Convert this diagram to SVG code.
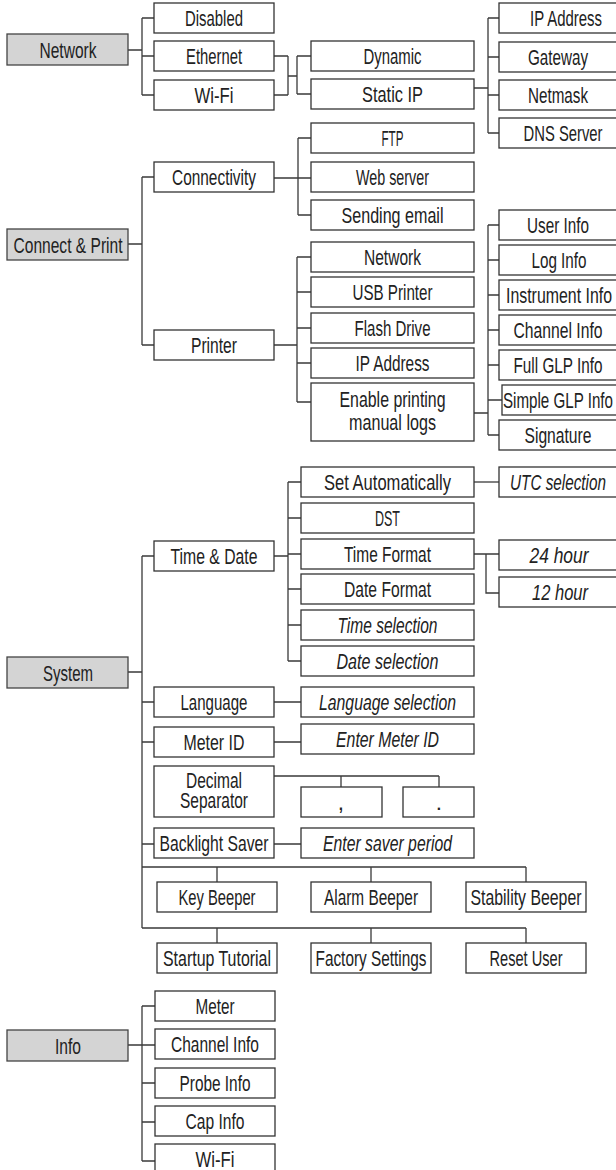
<svg xmlns="http://www.w3.org/2000/svg" width="616" height="1170" viewBox="0 0 616 1170">
<style>
.b{fill:#fff;stroke:#333;stroke-width:1.3}
.r{fill:#d4d4d4;stroke:#444;stroke-width:1.3}
.c{fill:none;stroke:#3a3a3a;stroke-width:1.3}
text{font-family:"Liberation Sans Narrow","Liberation Sans",Arial,sans-serif;font-size:22.5px;fill:#222;text-anchor:middle}
.i{font-style:italic}
</style>
<rect width="616" height="1170" fill="#fff"/>
<g id="connectors" class="c">
<path d="M128 50H142M142 18V95M142 18H154M142 56H154M142 95H154"/>
<path d="M274 56H288M274 95H288M288 56V95M288 76H297M297 56V94M297 56H311M297 94H311"/>
<path d="M474 88H488M488 18V133M488 18H499M488 57H499M488 95H499M488 133H499"/>
<path d="M128 244H142M142 177V345M142 177H154M142 345H154"/>
<path d="M274 178H311M298 138V215M298 138H311M298 215H311"/>
<path d="M274 345H297M297 257V402M297 257H311M297 292H311M297 328H311M297 363H311M297 402H311"/>
<path d="M474 413H488M488 225V435M488 225H499M488 260H499M488 295H499M488 330H499M488 365H499M488 400H502M488 435H499"/>
<path d="M128 672H142M142 556V928M142 556H154M142 702H154M142 742H154M142 844H154"/>
<path d="M142 867H526M217 867V882M371 867V882M526 867V882"/>
<path d="M142 928H526M217 928V943M371 928V943M526 928V943"/>
<path d="M274 556H288M288 482V661M288 482H301M288 518H301M288 554H301M288 589H301M288 625H301M288 661H301"/>
<path d="M474 482H499"/>
<path d="M474 554H499M486 554V593H499"/>
<path d="M274 702H301M274 742H301M274 844H301"/>
<path d="M274 776H439M341 776V787M439 776V787"/>
<path d="M128 1045H155M142 1006V1161M142 1006H155M142 1083H155M142 1122H155M142 1161H155"/>
</g>
<g id="n-network"><rect class="r" x="7" y="34" width="121" height="31"/><text x="68" y="58" textLength="57" lengthAdjust="spacingAndGlyphs">Network</text></g>
<g id="n-disabled"><rect class="b" x="154" y="3" width="120" height="30"/><text x="214" y="26" textLength="58" lengthAdjust="spacingAndGlyphs">Disabled</text></g>
<g id="n-ethernet"><rect class="b" x="154" y="41" width="120" height="30"/><text x="214" y="64" textLength="56" lengthAdjust="spacingAndGlyphs">Ethernet</text></g>
<g id="n-wifi"><rect class="b" x="154" y="80" width="120" height="30"/><text x="214" y="103" textLength="39" lengthAdjust="spacingAndGlyphs">Wi-Fi</text></g>
<g id="n-dynamic"><rect class="b" x="311" y="41" width="163" height="30"/><text x="392.5" y="64" textLength="58" lengthAdjust="spacingAndGlyphs">Dynamic</text></g>
<g id="n-staticip"><rect class="b" x="311" y="79" width="163" height="30"/><text x="392.5" y="102" textLength="61" lengthAdjust="spacingAndGlyphs">Static IP</text></g>
<g id="n-ipaddress"><rect class="b" x="499" y="3" width="119" height="30"/><text x="566" y="26" textLength="72" lengthAdjust="spacingAndGlyphs">IP Address</text></g>
<g id="n-gateway"><rect class="b" x="499" y="42" width="119" height="30"/><text x="558" y="65" textLength="60" lengthAdjust="spacingAndGlyphs">Gateway</text></g>
<g id="n-netmask"><rect class="b" x="499" y="80" width="119" height="30"/><text x="558" y="103" textLength="60" lengthAdjust="spacingAndGlyphs">Netmask</text></g>
<g id="n-dns"><rect class="b" x="499" y="118" width="119" height="30"/><text x="563" y="141" textLength="79" lengthAdjust="spacingAndGlyphs">DNS Server</text></g>
<g id="n-connectprint"><rect class="r" x="7" y="229" width="121" height="31"/><text x="68" y="252.5" textLength="109" lengthAdjust="spacingAndGlyphs">Connect &amp; Print</text></g>
<g id="n-connectivity"><rect class="b" x="154" y="162" width="120" height="30"/><text x="214" y="185" textLength="84" lengthAdjust="spacingAndGlyphs">Connectivity</text></g>
<g id="n-ftp"><rect class="b" x="311" y="123" width="163" height="30"/><text x="392.5" y="146" textLength="22" lengthAdjust="spacingAndGlyphs">FTP</text></g>
<g id="n-webserver"><rect class="b" x="311" y="162" width="163" height="30"/><text x="392.5" y="185" textLength="73" lengthAdjust="spacingAndGlyphs">Web server</text></g>
<g id="n-email"><rect class="b" x="311" y="200" width="163" height="30"/><text x="392.5" y="223" textLength="102" lengthAdjust="spacingAndGlyphs">Sending email</text></g>
<g id="n-printer"><rect class="b" x="154" y="330" width="120" height="30"/><text x="214" y="353" textLength="46" lengthAdjust="spacingAndGlyphs">Printer</text></g>
<g id="n-pnetwork"><rect class="b" x="311" y="242" width="163" height="30"/><text x="392.5" y="265" textLength="57" lengthAdjust="spacingAndGlyphs">Network</text></g>
<g id="n-usb"><rect class="b" x="311" y="277" width="163" height="30"/><text x="392.5" y="300" textLength="80" lengthAdjust="spacingAndGlyphs">USB Printer</text></g>
<g id="n-flash"><rect class="b" x="311" y="313" width="163" height="30"/><text x="392.5" y="336" textLength="76" lengthAdjust="spacingAndGlyphs">Flash Drive</text></g>
<g id="n-pip"><rect class="b" x="311" y="348" width="163" height="30"/><text x="392.5" y="371" textLength="74" lengthAdjust="spacingAndGlyphs">IP Address</text></g>
<g id="n-enable"><rect class="b" x="311" y="383" width="163" height="58"/><text x="392.5" y="407" textLength="106" lengthAdjust="spacingAndGlyphs">Enable printing</text><text x="392.5" y="430" textLength="87" lengthAdjust="spacingAndGlyphs">manual logs</text></g>
<g id="n-userinfo"><rect class="b" x="499" y="210" width="119" height="30"/><text x="558" y="233" textLength="62" lengthAdjust="spacingAndGlyphs">User Info</text></g>
<g id="n-loginfo"><rect class="b" x="499" y="245" width="119" height="30"/><text x="559" y="268" textLength="55" lengthAdjust="spacingAndGlyphs">Log Info</text></g>
<g id="n-instinfo"><rect class="b" x="499" y="280" width="119" height="30"/><text x="559" y="303" textLength="106" lengthAdjust="spacingAndGlyphs">Instrument Info</text></g>
<g id="n-chaninfo"><rect class="b" x="499" y="315" width="119" height="30"/><text x="558" y="338" textLength="89" lengthAdjust="spacingAndGlyphs">Channel Info</text></g>
<g id="n-fullglp"><rect class="b" x="499" y="350" width="119" height="30"/><text x="558" y="373" textLength="89" lengthAdjust="spacingAndGlyphs">Full GLP Info</text></g>
<g id="n-simpleglp"><rect class="b" x="502" y="385" width="116" height="30"/><text x="558" y="408" textLength="110" lengthAdjust="spacingAndGlyphs">Simple GLP Info</text></g>
<g id="n-signature"><rect class="b" x="499" y="420" width="119" height="30"/><text x="558" y="443" textLength="67" lengthAdjust="spacingAndGlyphs">Signature</text></g>
<g id="n-system"><rect class="r" x="7" y="657" width="121" height="31"/><text x="68" y="680.5" textLength="50" lengthAdjust="spacingAndGlyphs">System</text></g>
<g id="n-timedate"><rect class="b" x="154" y="541" width="120" height="30"/><text x="214" y="564" textLength="87" lengthAdjust="spacingAndGlyphs">Time &amp; Date</text></g>
<g id="n-setauto"><rect class="b" x="301" y="467" width="173" height="30"/><text x="387.5" y="490" textLength="127" lengthAdjust="spacingAndGlyphs">Set Automatically</text></g>
<g id="n-utc"><rect class="b" x="499" y="467" width="119" height="30"/><text class="i" x="558" y="490" textLength="96" lengthAdjust="spacingAndGlyphs">UTC selection</text></g>
<g id="n-dst"><rect class="b" x="301" y="503" width="173" height="30"/><text x="387.5" y="526" textLength="25" lengthAdjust="spacingAndGlyphs">DST</text></g>
<g id="n-timeformat"><rect class="b" x="301" y="539" width="173" height="30"/><text x="387.5" y="562" textLength="87" lengthAdjust="spacingAndGlyphs">Time Format</text></g>
<g id="n-24h"><rect class="b" x="499" y="540" width="119" height="30"/><text class="i" x="559" y="563" textLength="59" lengthAdjust="spacingAndGlyphs">24 hour</text></g>
<g id="n-12h"><rect class="b" x="499" y="577" width="119" height="30"/><text class="i" x="560" y="600" textLength="56" lengthAdjust="spacingAndGlyphs">12 hour</text></g>
<g id="n-dateformat"><rect class="b" x="301" y="574" width="173" height="30"/><text x="387.5" y="597" textLength="87" lengthAdjust="spacingAndGlyphs">Date Format</text></g>
<g id="n-timesel"><rect class="b" x="301" y="610" width="173" height="30"/><text class="i" x="387.5" y="633" textLength="100" lengthAdjust="spacingAndGlyphs">Time selection</text></g>
<g id="n-datesel"><rect class="b" x="301" y="646" width="173" height="30"/><text class="i" x="387.5" y="669" textLength="102" lengthAdjust="spacingAndGlyphs">Date selection</text></g>
<g id="n-language"><rect class="b" x="154" y="687" width="120" height="30"/><text x="214" y="710" textLength="67" lengthAdjust="spacingAndGlyphs">Language</text></g>
<g id="n-langsel"><rect class="b" x="301" y="687" width="173" height="30"/><text class="i" x="387.5" y="710" textLength="137" lengthAdjust="spacingAndGlyphs">Language selection</text></g>
<g id="n-meterid"><rect class="b" x="154" y="727" width="120" height="30"/><text x="214" y="750" textLength="61" lengthAdjust="spacingAndGlyphs">Meter ID</text></g>
<g id="n-entermeterid"><rect class="b" x="301" y="724" width="173" height="30"/><text class="i" x="387.5" y="747" textLength="103" lengthAdjust="spacingAndGlyphs">Enter Meter ID</text></g>
<g id="n-decimal"><rect class="b" x="154" y="766" width="120" height="51"/><text x="214" y="788" textLength="56" lengthAdjust="spacingAndGlyphs">Decimal</text><text x="214" y="808" textLength="68" lengthAdjust="spacingAndGlyphs">Separator</text></g>
<g id="n-comma"><rect class="b" x="301" y="787" width="81" height="30"/><text x="341" y="810">,</text></g>
<g id="n-dot"><rect class="b" x="403" y="787" width="71" height="30"/><text x="439" y="810">.</text></g>
<g id="n-backlight"><rect class="b" x="154" y="828" width="120" height="30"/><text x="214" y="851" textLength="109" lengthAdjust="spacingAndGlyphs">Backlight Saver</text></g>
<g id="n-saverperiod"><rect class="b" x="301" y="828" width="173" height="30"/><text class="i" x="387.5" y="851" textLength="129" lengthAdjust="spacingAndGlyphs">Enter saver period</text></g>
<g id="n-keybeeper"><rect class="b" x="157" y="882" width="120" height="30"/><text x="217" y="905" textLength="77" lengthAdjust="spacingAndGlyphs">Key Beeper</text></g>
<g id="n-alarmbeeper"><rect class="b" x="311" y="882" width="120" height="30"/><text x="371" y="905" textLength="94" lengthAdjust="spacingAndGlyphs">Alarm Beeper</text></g>
<g id="n-stabbeeper"><rect class="b" x="466" y="882" width="120" height="30"/><text x="526" y="905" textLength="111" lengthAdjust="spacingAndGlyphs">Stability Beeper</text></g>
<g id="n-startup"><rect class="b" x="157" y="943" width="120" height="30"/><text x="217" y="966" textLength="108" lengthAdjust="spacingAndGlyphs">Startup Tutorial</text></g>
<g id="n-factory"><rect class="b" x="311" y="943" width="120" height="30"/><text x="371" y="966" textLength="111" lengthAdjust="spacingAndGlyphs">Factory Settings</text></g>
<g id="n-resetuser"><rect class="b" x="466" y="943" width="120" height="30"/><text x="526" y="966" textLength="73" lengthAdjust="spacingAndGlyphs">Reset User</text></g>
<g id="n-info"><rect class="r" x="7" y="1030" width="121" height="31"/><text x="68" y="1053.5" textLength="26" lengthAdjust="spacingAndGlyphs">Info</text></g>
<g id="n-meter"><rect class="b" x="155" y="991" width="120" height="30"/><text x="215" y="1014" textLength="39" lengthAdjust="spacingAndGlyphs">Meter</text></g>
<g id="n-ichannel"><rect class="b" x="155" y="1029" width="120" height="30"/><text x="215" y="1052" textLength="88" lengthAdjust="spacingAndGlyphs">Channel Info</text></g>
<g id="n-probe"><rect class="b" x="155" y="1068" width="120" height="30"/><text x="215" y="1091" textLength="71" lengthAdjust="spacingAndGlyphs">Probe Info</text></g>
<g id="n-cap"><rect class="b" x="155" y="1106" width="120" height="30"/><text x="215" y="1129" textLength="59" lengthAdjust="spacingAndGlyphs">Cap Info</text></g>
<g id="n-iwifi"><rect class="b" x="155" y="1144" width="120" height="30"/><text x="215" y="1167" textLength="39" lengthAdjust="spacingAndGlyphs">Wi-Fi</text></g>
</svg>
